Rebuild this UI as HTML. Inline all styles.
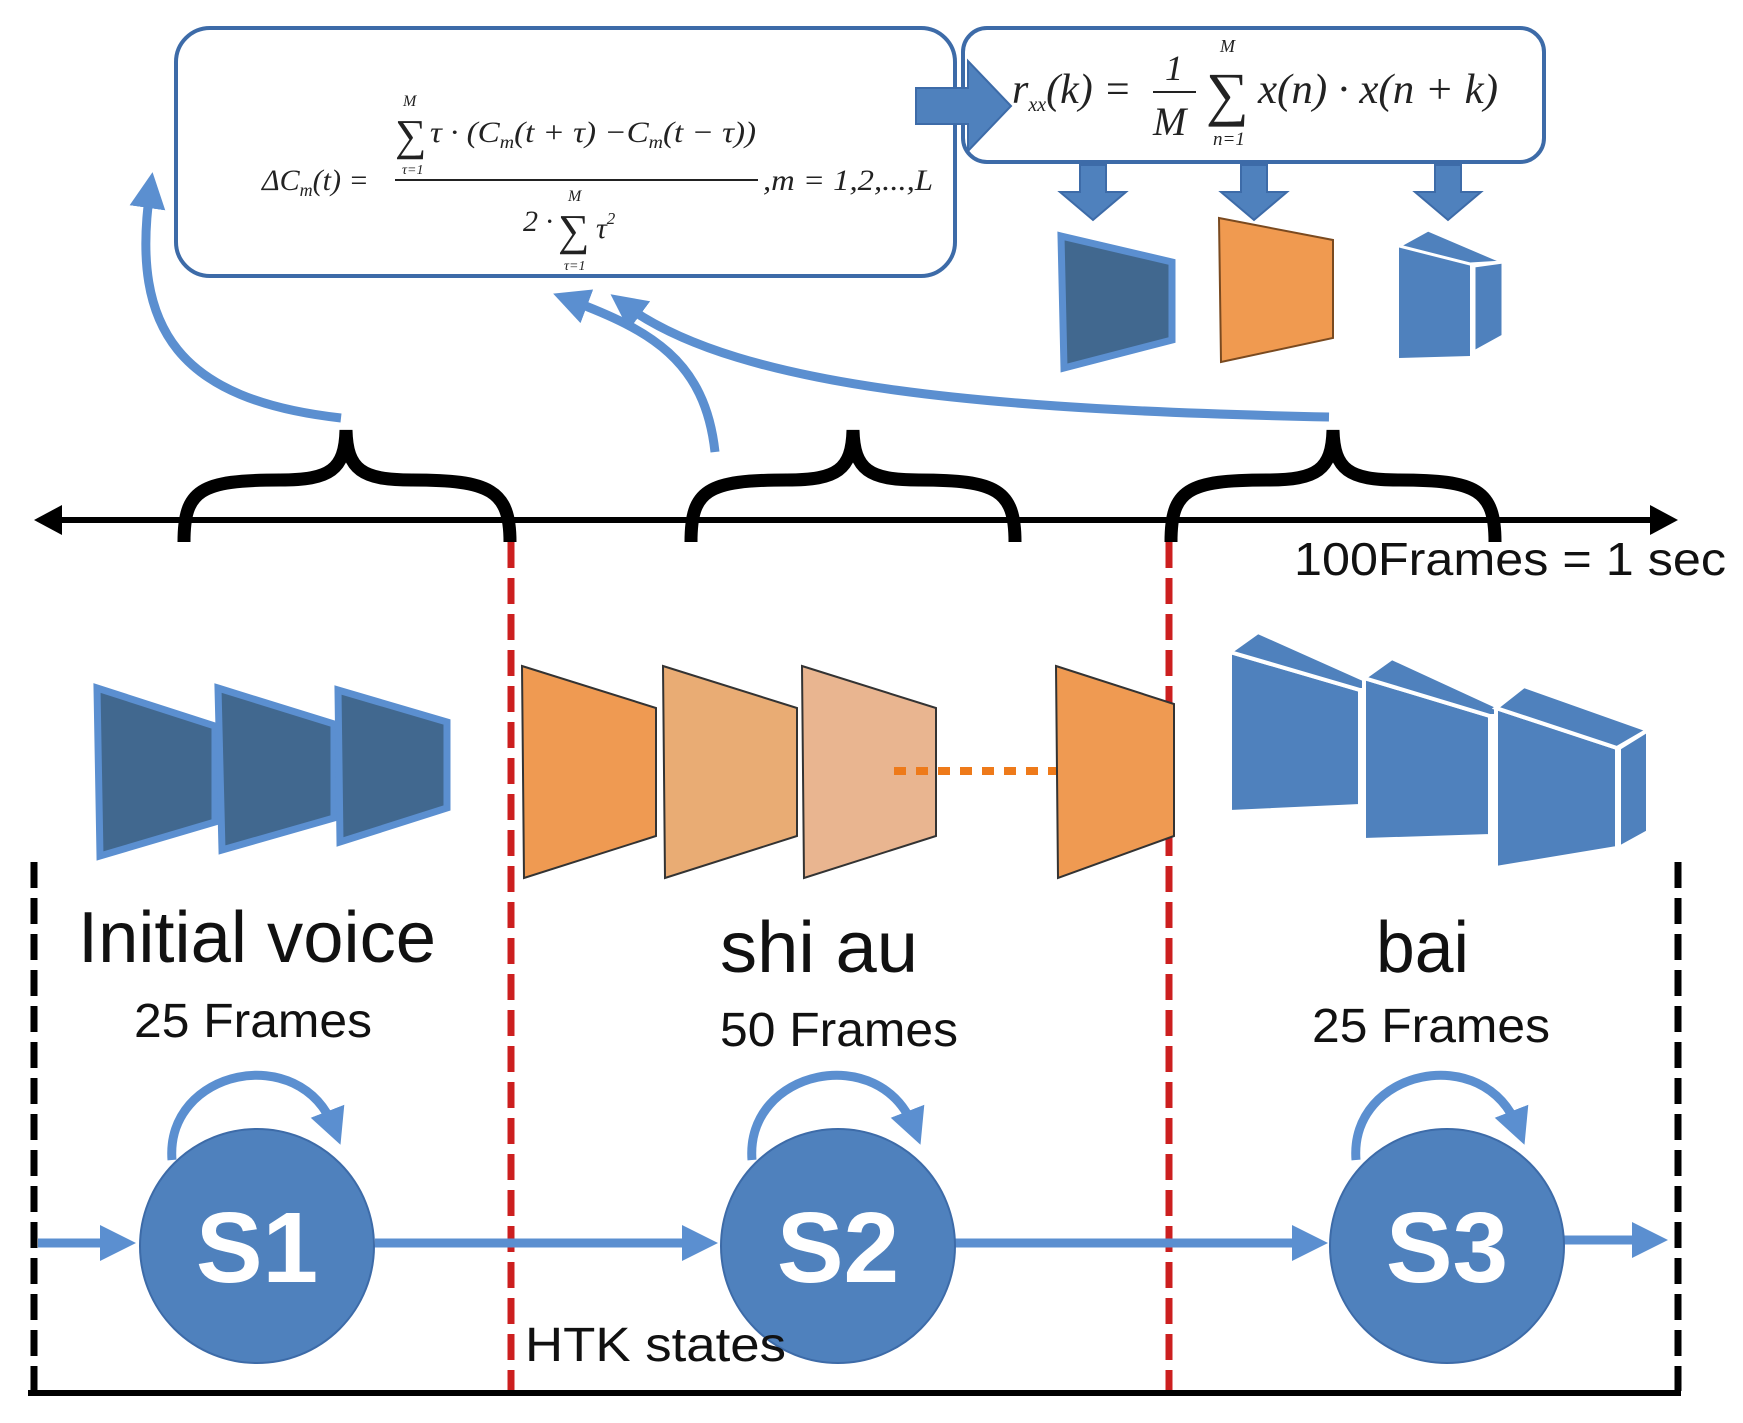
<!DOCTYPE html>
<html><head><meta charset="utf-8"><style>
html,body{margin:0;padding:0;background:#fff;width:1743px;height:1423px;overflow:hidden}
svg{display:block}
.m{font-family:"Liberation Serif",serif;font-style:italic;fill:#222}
.s{font-family:"Liberation Sans",sans-serif;fill:#111}
</style></head><body>
<svg width="1743" height="1423" viewBox="0 0 1743 1423" xmlns="http://www.w3.org/2000/svg">
<defs>
<marker id="ab" markerWidth="4" markerHeight="4" refX="2" refY="2" orient="auto" markerUnits="strokeWidth"><path d="M0,0 L4,2 L0,4 Z" fill="#5b8fd0"/></marker>
</defs>
<rect x="176" y="28" width="779" height="248" rx="34" fill="#fff" stroke="#3d6ba8" stroke-width="4"/>
<rect x="963" y="28" width="581" height="134" rx="24" fill="#fff" stroke="#3d6ba8" stroke-width="4"/>
<!-- formula 1 -->
<text class="m" x="262" y="190" font-size="30">ΔC<tspan font-size="18" dy="6">m</tspan><tspan dy="-6">(t) =</tspan></text>
<line x1="395" y1="180" x2="758" y2="180" stroke="#222" stroke-width="2"/>
<text class="m" x="403" y="106" font-size="16">M</text>
<text class="m" x="395" y="150" font-size="44" font-style="normal">∑</text>
<text class="m" x="402" y="174" font-size="14">τ=1</text>
<text class="m" x="430" y="142" font-size="30" textLength="326" lengthAdjust="spacingAndGlyphs">τ · (C<tspan font-size="18" dy="6">m</tspan><tspan dy="-6">(t + τ) −C</tspan><tspan font-size="18" dy="6">m</tspan><tspan dy="-6">(t − τ))</tspan></text>
<text class="m" x="763" y="190" font-size="30" textLength="170" lengthAdjust="spacingAndGlyphs">,m = 1,2,...,L</text>
<text class="m" x="523" y="231" font-size="30" font-style="normal">2 ·</text>
<text class="m" x="568" y="201" font-size="16">M</text>
<text class="m" x="558" y="245" font-size="44" font-style="normal">∑</text>
<text class="m" x="564" y="270" font-size="14">τ=1</text>
<text class="m" x="596" y="238" font-size="30">τ<tspan font-size="17" dy="-14">2</tspan></text>
<!-- formula 2 -->
<text class="m" x="1012" y="103" font-size="42">r<tspan font-size="20" dy="8">xx</tspan><tspan dy="-8">(k) =</tspan></text>
<text class="m" x="1165" y="80" font-size="36" font-style="normal">1</text>
<line x1="1153" y1="92" x2="1196" y2="92" stroke="#222" stroke-width="2"/>
<text class="m" x="1153" y="135" font-size="40">M</text>
<text class="m" x="1220" y="52" font-size="18">M</text>
<text class="m" x="1206" y="114" font-size="60" font-style="normal">∑</text>
<text class="m" x="1213" y="145" font-size="19">n=1</text>
<text class="m" x="1258" y="103" font-size="42" textLength="240" lengthAdjust="spacingAndGlyphs">x(n) · x(n + k)</text>
<path d="M916,88 L968,88 L968,61 L1011,106 L968,151 L968,124 L916,124 Z" fill="#4f81bd" stroke="#3d6ba8" stroke-width="2"/>
<g fill="#4f81bd" stroke="#3d6ba8" stroke-width="2">
<path d="M1080,165 L1106,165 L1106,192 L1126,192 L1093,220 L1060,192 L1080,192 Z"/>
<path d="M1241,165 L1267,165 L1267,192 L1287,192 L1254,220 L1221,192 L1241,192 Z"/>
<path d="M1435,165 L1461,165 L1461,192 L1481,192 L1448,220 L1415,192 L1435,192 Z"/>
</g>
<path d="M1061,236 L1172,262 L1172,340 L1064,368 Z" fill="#41688f" stroke="#5b8fd0" stroke-width="7"/>
<path d="M1219,218 L1333,240 L1333,338 L1221,362 Z" fill="#f09a50" stroke="#7a4a20" stroke-width="2"/>
<path d="M1399,246 L1470,264 L1470,356 L1399,358 Z" fill="#4f81bd"/>
<path d="M1399,246 L1428,230 L1503,262 L1470,264 Z" fill="#4f81bd" stroke="#fff" stroke-width="3"/>
<path d="M1474,266 L1503,262 L1503,336 L1474,352 Z" fill="#4f81bd" stroke="#fff" stroke-width="3"/>
<g fill="none" stroke="#5b8fd0" stroke-width="9">
<path d="M341,418 C180,400 130,330 150,190" marker-end="url(#ab)"/>
<path d="M715,452 C705,360 650,330 570,300" marker-end="url(#ab)"/>
<path d="M1329,417 C1000,410 740,390 625,305" marker-end="url(#ab)"/>
</g>
<line x1="50" y1="520" x2="1660" y2="520" stroke="#000" stroke-width="6"/>
<path d="M34,520 L62,505 L62,535 Z"/><path d="M1678,520 L1650,505 L1650,535 Z"/>
<g fill="none" stroke="#000" stroke-width="13">
<path d="M184,542 C184,490 200,480 280,480 C330,480 345,470 346,430 C347,470 362,480 412,480 C490,480 510,490 510,542"/>
<path d="M691,542 C691,490 707,480 787,480 C837,480 852,470 853,430 C854,470 869,480 919,480 C997,480 1015,490 1015,542"/>
<path d="M1171,542 C1171,490 1187,480 1267,480 C1317,480 1332,470 1333,430 C1334,470 1349,480 1399,480 C1477,480 1495,490 1495,542"/>
</g>
<text class="s" x="1294" y="575" font-size="46" textLength="432" lengthAdjust="spacingAndGlyphs">100Frames = 1 sec</text>
<g stroke-width="7" fill="none">
<line x1="511" y1="542" x2="511" y2="1391" stroke="#cc1f1f" stroke-dasharray="26,10"/>
<line x1="1169" y1="542" x2="1169" y2="1391" stroke="#cc1f1f" stroke-dasharray="26,10"/>
<line x1="34" y1="862" x2="34" y2="1391" stroke="#000" stroke-dasharray="26,10"/>
<line x1="1678" y1="862" x2="1678" y2="1391" stroke="#000" stroke-dasharray="26,10"/>
</g>
<line x1="28" y1="1393" x2="1681" y2="1393" stroke="#000" stroke-width="6"/>
<g fill="#41688f" stroke="#5b8fd0" stroke-width="7">
<path d="M97,688 L215,726 L215,822 L100,856 Z"/>
<path d="M218,688 L334,724 L334,818 L222,850 Z"/>
<path d="M338,690 L447,722 L447,808 L340,842 Z"/>
</g>
<g stroke="#333" stroke-width="2">
<path d="M522,666 L656,708 L656,836 L524,878 Z" fill="#ef9a52"/>
<path d="M663,666 L797,708 L797,836 L665,878 Z" fill="#e9ac74"/>
<path d="M802,666 L936,708 L936,836 L804,878 Z" fill="#e9b590"/>
<path d="M1056,666 L1174,704 L1174,836 L1058,878 Z" fill="#ef9a52"/>
</g>
<line x1="894" y1="771" x2="1056" y2="771" stroke="#ee7a1a" stroke-width="8" stroke-dasharray="12,10"/>
<g fill="#4f81bd" stroke="#fff" stroke-width="4">
<path d="M1230,652 L1360,690 L1360,806 L1230,812 Z"/>
<path d="M1230,652 L1258,632 L1388,690 L1360,690 Z"/>
<path d="M1362,690 L1390,690 L1390,796 L1362,806 Z"/>
<path d="M1364,678 L1490,716 L1490,836 L1364,840 Z"/>
<path d="M1364,678 L1392,658 L1518,716 L1490,716 Z"/>
<path d="M1492,716 L1518,716 L1518,826 L1492,836 Z"/>
<path d="M1496,708 L1617,748 L1617,848 L1496,868 Z"/>
<path d="M1496,708 L1524,686 L1648,730 L1617,748 Z"/>
<path d="M1619,748 L1648,730 L1648,832 L1619,848 Z"/>
</g>
<text class="s" x="78" y="962" font-size="72" textLength="358" lengthAdjust="spacingAndGlyphs">Initial voice</text>
<text class="s" x="134" y="1037" font-size="48" textLength="238" lengthAdjust="spacingAndGlyphs">25 Frames</text>
<text class="s" x="720" y="972" font-size="72" textLength="198" lengthAdjust="spacingAndGlyphs">shi  au</text>
<text class="s" x="720" y="1046" font-size="48" textLength="238" lengthAdjust="spacingAndGlyphs">50 Frames</text>
<text class="s" x="1376" y="972" font-size="72" textLength="93" lengthAdjust="spacingAndGlyphs">bai</text>
<text class="s" x="1312" y="1042" font-size="48" textLength="238" lengthAdjust="spacingAndGlyphs">25 Frames</text>
<g stroke="#5b8fd0" stroke-width="9" fill="none">
<line x1="38" y1="1243" x2="118" y2="1243" marker-end="url(#ab)"/>
<line x1="375" y1="1243" x2="700" y2="1243" marker-end="url(#ab)"/>
<line x1="955" y1="1243" x2="1310" y2="1243" marker-end="url(#ab)"/>
<line x1="1563" y1="1240" x2="1650" y2="1240" marker-end="url(#ab)"/>
<path d="M172,1160 C165,1070 300,1040 334,1128" marker-end="url(#ab)"/>
<path d="M752,1160 C745,1070 880,1040 914,1128" marker-end="url(#ab)"/>
<path d="M1356,1160 C1349,1070 1484,1040 1518,1128" marker-end="url(#ab)"/>
</g>
<g fill="#4f81bd" stroke="#3d6ba8" stroke-width="2">
<circle cx="257" cy="1246" r="117"/><circle cx="838" cy="1246" r="117"/><circle cx="1447" cy="1246" r="117"/>
</g>
<g font-family="Liberation Sans, sans-serif" font-weight="bold" font-size="100" fill="#fff" text-anchor="middle">
<text x="257" y="1282">S1</text><text x="838" y="1282">S2</text><text x="1447" y="1282">S3</text>
</g>
<text class="s" x="525" y="1361" font-size="48" textLength="261" lengthAdjust="spacingAndGlyphs">HTK  states</text>
</svg>
</body></html>
